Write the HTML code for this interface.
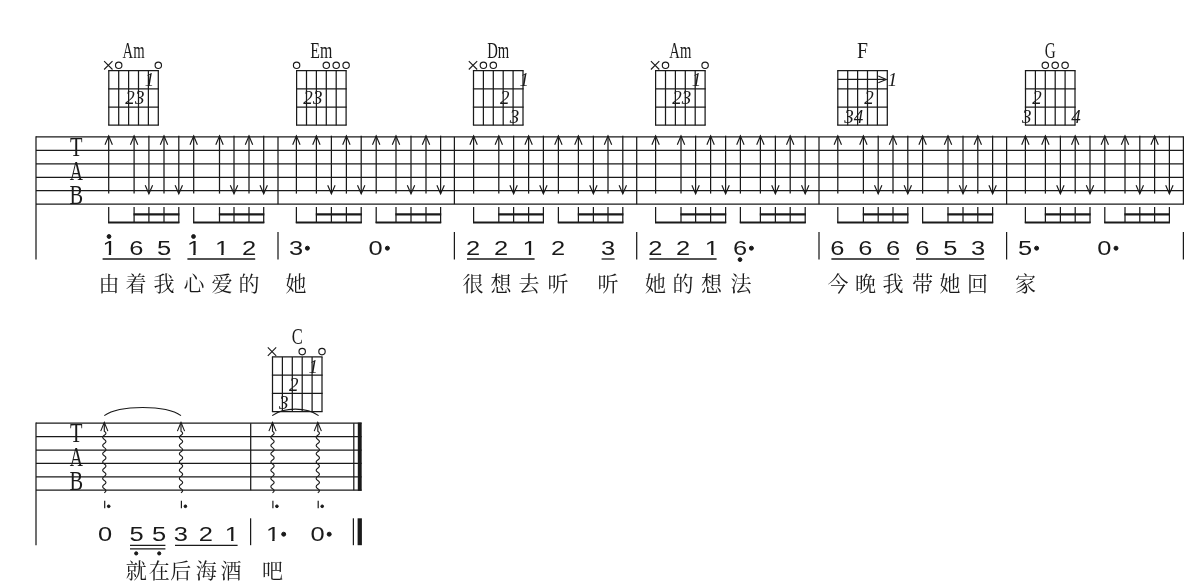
<!DOCTYPE html>
<html lang="zh-CN"><head><meta charset="utf-8"><title>吉他谱</title>
<style>
html,body{margin:0;padding:0;background:#fff;}
body{width:1200px;height:582px;overflow:hidden;}
svg{display:block;will-change:transform;}
svg line,svg path,svg circle{stroke:#1a1a1a;}
text{fill:#1a1a1a;text-anchor:middle;}
.nm{font-family:"Liberation Sans",sans-serif;font-size:19.6px;}
.ly{font-family:"Liberation Serif","Noto Serif CJK SC",serif;font-size:21px;font-weight:400;}
.cn{font-family:"Liberation Serif",serif;font-size:23.2px;}
.tab{font-family:"Liberation Serif",serif;font-size:27.2px;}
.fg{font-family:"Liberation Serif",serif;font-style:italic;font-size:19px;}
</style></head><body>
<svg width="1200" height="582" viewBox="0 0 1200 582">
<defs><clipPath id="c1"><rect x="-6" y="-16" width="12" height="14.35"/><rect x="-0.62" y="-2" width="1.85" height="3"/></clipPath></defs>
<line x1="36.00" y1="136.90" x2="1183.40" y2="136.90" stroke-width="1.25"/>
<line x1="36.00" y1="150.35" x2="1183.40" y2="150.35" stroke-width="1.25"/>
<line x1="36.00" y1="163.80" x2="1183.40" y2="163.80" stroke-width="1.25"/>
<line x1="36.00" y1="177.25" x2="1183.40" y2="177.25" stroke-width="1.25"/>
<line x1="36.00" y1="190.70" x2="1183.40" y2="190.70" stroke-width="1.25"/>
<line x1="36.00" y1="204.15" x2="1183.40" y2="204.15" stroke-width="1.25"/>
<line x1="36.00" y1="136.30" x2="36.00" y2="259.50" stroke-width="1.25"/>
<line x1="278.00" y1="136.90" x2="278.00" y2="204.15" stroke-width="1.25"/>
<line x1="454.40" y1="136.90" x2="454.40" y2="204.15" stroke-width="1.25"/>
<line x1="636.70" y1="136.90" x2="636.70" y2="204.15" stroke-width="1.25"/>
<line x1="819.00" y1="136.90" x2="819.00" y2="204.15" stroke-width="1.25"/>
<line x1="1006.60" y1="136.90" x2="1006.60" y2="204.15" stroke-width="1.25"/>
<line x1="1183.40" y1="136.30" x2="1183.40" y2="204.75" stroke-width="1.25"/>
<line x1="278.00" y1="232.00" x2="278.00" y2="259.50" stroke-width="1.25"/>
<line x1="454.40" y1="232.00" x2="454.40" y2="259.50" stroke-width="1.25"/>
<line x1="636.70" y1="232.00" x2="636.70" y2="259.50" stroke-width="1.25"/>
<line x1="819.00" y1="232.00" x2="819.00" y2="259.50" stroke-width="1.25"/>
<line x1="1006.60" y1="232.00" x2="1006.60" y2="259.50" stroke-width="1.25"/>
<line x1="1183.40" y1="232.00" x2="1183.40" y2="259.50" stroke-width="1.25"/>
<text class="tab" transform="translate(76.30,155.90) scale(0.75,1)" >T</text>
<text class="tab" transform="translate(76.30,179.70) scale(0.67,1)" >A</text>
<text class="tab" transform="translate(76.30,204.10) scale(0.75,1)" >B</text>
<line x1="108.70" y1="135.70" x2="108.70" y2="193.60" stroke-width="1.25"/>
<path d="M105.00,144.80 L108.70,136.00 L112.40,144.80" stroke-width="1.15" fill="none"/>
<line x1="134.10" y1="135.70" x2="134.10" y2="193.60" stroke-width="1.25"/>
<path d="M130.40,144.80 L134.10,136.00 L137.80,144.80" stroke-width="1.15" fill="none"/>
<line x1="148.90" y1="135.70" x2="148.90" y2="193.60" stroke-width="1.25"/>
<path d="M145.20,185.20 L148.90,193.80 L152.60,185.20" stroke-width="1.15" fill="none"/>
<line x1="164.00" y1="135.70" x2="164.00" y2="193.60" stroke-width="1.25"/>
<path d="M160.30,144.80 L164.00,136.00 L167.70,144.80" stroke-width="1.15" fill="none"/>
<line x1="178.80" y1="135.70" x2="178.80" y2="193.60" stroke-width="1.25"/>
<path d="M175.10,185.20 L178.80,193.80 L182.50,185.20" stroke-width="1.15" fill="none"/>
<line x1="193.70" y1="135.70" x2="193.70" y2="193.60" stroke-width="1.25"/>
<path d="M190.00,144.80 L193.70,136.00 L197.40,144.80" stroke-width="1.15" fill="none"/>
<line x1="219.50" y1="135.70" x2="219.50" y2="193.60" stroke-width="1.25"/>
<path d="M215.80,144.80 L219.50,136.00 L223.20,144.80" stroke-width="1.15" fill="none"/>
<line x1="234.00" y1="135.70" x2="234.00" y2="193.60" stroke-width="1.25"/>
<path d="M230.30,185.20 L234.00,193.80 L237.70,185.20" stroke-width="1.15" fill="none"/>
<line x1="249.00" y1="135.70" x2="249.00" y2="193.60" stroke-width="1.25"/>
<path d="M245.30,144.80 L249.00,136.00 L252.70,144.80" stroke-width="1.15" fill="none"/>
<line x1="263.70" y1="135.70" x2="263.70" y2="193.60" stroke-width="1.25"/>
<path d="M260.00,185.20 L263.70,193.80 L267.40,185.20" stroke-width="1.15" fill="none"/>
<line x1="108.70" y1="207.00" x2="108.70" y2="223.00" stroke-width="1.25"/>
<line x1="134.10" y1="207.00" x2="134.10" y2="223.00" stroke-width="1.25"/>
<line x1="148.90" y1="207.00" x2="148.90" y2="223.00" stroke-width="1.25"/>
<line x1="164.00" y1="207.00" x2="164.00" y2="223.00" stroke-width="1.25"/>
<line x1="178.80" y1="207.00" x2="178.80" y2="223.00" stroke-width="1.25"/>
<line x1="108.10" y1="222.60" x2="179.40" y2="222.60" stroke-width="2.0"/>
<line x1="133.50" y1="214.30" x2="179.40" y2="214.30" stroke-width="2.3"/>
<line x1="193.70" y1="207.00" x2="193.70" y2="223.00" stroke-width="1.25"/>
<line x1="219.50" y1="207.00" x2="219.50" y2="223.00" stroke-width="1.25"/>
<line x1="234.00" y1="207.00" x2="234.00" y2="223.00" stroke-width="1.25"/>
<line x1="249.00" y1="207.00" x2="249.00" y2="223.00" stroke-width="1.25"/>
<line x1="263.70" y1="207.00" x2="263.70" y2="223.00" stroke-width="1.25"/>
<line x1="193.10" y1="222.60" x2="264.30" y2="222.60" stroke-width="2.0"/>
<line x1="218.90" y1="214.30" x2="264.30" y2="214.30" stroke-width="2.3"/>
<line x1="296.40" y1="135.70" x2="296.40" y2="193.60" stroke-width="1.25"/>
<path d="M292.70,144.80 L296.40,136.00 L300.10,144.80" stroke-width="1.15" fill="none"/>
<line x1="316.40" y1="135.70" x2="316.40" y2="193.60" stroke-width="1.25"/>
<path d="M312.70,144.80 L316.40,136.00 L320.10,144.80" stroke-width="1.15" fill="none"/>
<line x1="331.40" y1="135.70" x2="331.40" y2="193.60" stroke-width="1.25"/>
<path d="M327.70,185.20 L331.40,193.80 L335.10,185.20" stroke-width="1.15" fill="none"/>
<line x1="346.40" y1="135.70" x2="346.40" y2="193.60" stroke-width="1.25"/>
<path d="M342.70,144.80 L346.40,136.00 L350.10,144.80" stroke-width="1.15" fill="none"/>
<line x1="361.20" y1="135.70" x2="361.20" y2="193.60" stroke-width="1.25"/>
<path d="M357.50,185.20 L361.20,193.80 L364.90,185.20" stroke-width="1.15" fill="none"/>
<line x1="376.20" y1="135.70" x2="376.20" y2="193.60" stroke-width="1.25"/>
<path d="M372.50,144.80 L376.20,136.00 L379.90,144.80" stroke-width="1.15" fill="none"/>
<line x1="396.00" y1="135.70" x2="396.00" y2="193.60" stroke-width="1.25"/>
<path d="M392.30,144.80 L396.00,136.00 L399.70,144.80" stroke-width="1.15" fill="none"/>
<line x1="411.00" y1="135.70" x2="411.00" y2="193.60" stroke-width="1.25"/>
<path d="M407.30,185.20 L411.00,193.80 L414.70,185.20" stroke-width="1.15" fill="none"/>
<line x1="426.00" y1="135.70" x2="426.00" y2="193.60" stroke-width="1.25"/>
<path d="M422.30,144.80 L426.00,136.00 L429.70,144.80" stroke-width="1.15" fill="none"/>
<line x1="440.60" y1="135.70" x2="440.60" y2="193.60" stroke-width="1.25"/>
<path d="M436.90,185.20 L440.60,193.80 L444.30,185.20" stroke-width="1.15" fill="none"/>
<line x1="296.40" y1="207.00" x2="296.40" y2="223.00" stroke-width="1.25"/>
<line x1="316.40" y1="207.00" x2="316.40" y2="223.00" stroke-width="1.25"/>
<line x1="331.40" y1="207.00" x2="331.40" y2="223.00" stroke-width="1.25"/>
<line x1="346.40" y1="207.00" x2="346.40" y2="223.00" stroke-width="1.25"/>
<line x1="361.20" y1="207.00" x2="361.20" y2="223.00" stroke-width="1.25"/>
<line x1="295.80" y1="222.60" x2="361.80" y2="222.60" stroke-width="2.0"/>
<line x1="315.80" y1="214.30" x2="361.80" y2="214.30" stroke-width="2.3"/>
<line x1="376.20" y1="207.00" x2="376.20" y2="223.00" stroke-width="1.25"/>
<line x1="396.00" y1="207.00" x2="396.00" y2="223.00" stroke-width="1.25"/>
<line x1="411.00" y1="207.00" x2="411.00" y2="223.00" stroke-width="1.25"/>
<line x1="426.00" y1="207.00" x2="426.00" y2="223.00" stroke-width="1.25"/>
<line x1="440.60" y1="207.00" x2="440.60" y2="223.00" stroke-width="1.25"/>
<line x1="375.60" y1="222.60" x2="441.20" y2="222.60" stroke-width="2.0"/>
<line x1="395.40" y1="214.30" x2="441.20" y2="214.30" stroke-width="2.3"/>
<line x1="473.60" y1="135.70" x2="473.60" y2="193.60" stroke-width="1.25"/>
<path d="M469.90,144.80 L473.60,136.00 L477.30,144.80" stroke-width="1.15" fill="none"/>
<line x1="498.80" y1="135.70" x2="498.80" y2="193.60" stroke-width="1.25"/>
<path d="M495.10,144.80 L498.80,136.00 L502.50,144.80" stroke-width="1.15" fill="none"/>
<line x1="513.60" y1="135.70" x2="513.60" y2="193.60" stroke-width="1.25"/>
<path d="M509.90,185.20 L513.60,193.80 L517.30,185.20" stroke-width="1.15" fill="none"/>
<line x1="528.60" y1="135.70" x2="528.60" y2="193.60" stroke-width="1.25"/>
<path d="M524.90,144.80 L528.60,136.00 L532.30,144.80" stroke-width="1.15" fill="none"/>
<line x1="543.40" y1="135.70" x2="543.40" y2="193.60" stroke-width="1.25"/>
<path d="M539.70,185.20 L543.40,193.80 L547.10,185.20" stroke-width="1.15" fill="none"/>
<line x1="558.40" y1="135.70" x2="558.40" y2="193.60" stroke-width="1.25"/>
<path d="M554.70,144.80 L558.40,136.00 L562.10,144.80" stroke-width="1.15" fill="none"/>
<line x1="578.40" y1="135.70" x2="578.40" y2="193.60" stroke-width="1.25"/>
<path d="M574.70,144.80 L578.40,136.00 L582.10,144.80" stroke-width="1.15" fill="none"/>
<line x1="593.40" y1="135.70" x2="593.40" y2="193.60" stroke-width="1.25"/>
<path d="M589.70,185.20 L593.40,193.80 L597.10,185.20" stroke-width="1.15" fill="none"/>
<line x1="608.00" y1="135.70" x2="608.00" y2="193.60" stroke-width="1.25"/>
<path d="M604.30,144.80 L608.00,136.00 L611.70,144.80" stroke-width="1.15" fill="none"/>
<line x1="622.80" y1="135.70" x2="622.80" y2="193.60" stroke-width="1.25"/>
<path d="M619.10,185.20 L622.80,193.80 L626.50,185.20" stroke-width="1.15" fill="none"/>
<line x1="473.60" y1="207.00" x2="473.60" y2="223.00" stroke-width="1.25"/>
<line x1="498.80" y1="207.00" x2="498.80" y2="223.00" stroke-width="1.25"/>
<line x1="513.60" y1="207.00" x2="513.60" y2="223.00" stroke-width="1.25"/>
<line x1="528.60" y1="207.00" x2="528.60" y2="223.00" stroke-width="1.25"/>
<line x1="543.40" y1="207.00" x2="543.40" y2="223.00" stroke-width="1.25"/>
<line x1="473.00" y1="222.60" x2="544.00" y2="222.60" stroke-width="2.0"/>
<line x1="498.20" y1="214.30" x2="544.00" y2="214.30" stroke-width="2.3"/>
<line x1="558.40" y1="207.00" x2="558.40" y2="223.00" stroke-width="1.25"/>
<line x1="578.40" y1="207.00" x2="578.40" y2="223.00" stroke-width="1.25"/>
<line x1="593.40" y1="207.00" x2="593.40" y2="223.00" stroke-width="1.25"/>
<line x1="608.00" y1="207.00" x2="608.00" y2="223.00" stroke-width="1.25"/>
<line x1="622.80" y1="207.00" x2="622.80" y2="223.00" stroke-width="1.25"/>
<line x1="557.80" y1="222.60" x2="623.40" y2="222.60" stroke-width="2.0"/>
<line x1="577.80" y1="214.30" x2="623.40" y2="214.30" stroke-width="2.3"/>
<line x1="655.60" y1="135.70" x2="655.60" y2="193.60" stroke-width="1.25"/>
<path d="M651.90,144.80 L655.60,136.00 L659.30,144.80" stroke-width="1.15" fill="none"/>
<line x1="681.00" y1="135.70" x2="681.00" y2="193.60" stroke-width="1.25"/>
<path d="M677.30,144.80 L681.00,136.00 L684.70,144.80" stroke-width="1.15" fill="none"/>
<line x1="695.60" y1="135.70" x2="695.60" y2="193.60" stroke-width="1.25"/>
<path d="M691.90,185.20 L695.60,193.80 L699.30,185.20" stroke-width="1.15" fill="none"/>
<line x1="710.60" y1="135.70" x2="710.60" y2="193.60" stroke-width="1.25"/>
<path d="M706.90,144.80 L710.60,136.00 L714.30,144.80" stroke-width="1.15" fill="none"/>
<line x1="725.60" y1="135.70" x2="725.60" y2="193.60" stroke-width="1.25"/>
<path d="M721.90,185.20 L725.60,193.80 L729.30,185.20" stroke-width="1.15" fill="none"/>
<line x1="740.40" y1="135.70" x2="740.40" y2="193.60" stroke-width="1.25"/>
<path d="M736.70,144.80 L740.40,136.00 L744.10,144.80" stroke-width="1.15" fill="none"/>
<line x1="760.40" y1="135.70" x2="760.40" y2="193.60" stroke-width="1.25"/>
<path d="M756.70,144.80 L760.40,136.00 L764.10,144.80" stroke-width="1.15" fill="none"/>
<line x1="775.40" y1="135.70" x2="775.40" y2="193.60" stroke-width="1.25"/>
<path d="M771.70,185.20 L775.40,193.80 L779.10,185.20" stroke-width="1.15" fill="none"/>
<line x1="790.20" y1="135.70" x2="790.20" y2="193.60" stroke-width="1.25"/>
<path d="M786.50,144.80 L790.20,136.00 L793.90,144.80" stroke-width="1.15" fill="none"/>
<line x1="805.20" y1="135.70" x2="805.20" y2="193.60" stroke-width="1.25"/>
<path d="M801.50,185.20 L805.20,193.80 L808.90,185.20" stroke-width="1.15" fill="none"/>
<line x1="655.60" y1="207.00" x2="655.60" y2="223.00" stroke-width="1.25"/>
<line x1="681.00" y1="207.00" x2="681.00" y2="223.00" stroke-width="1.25"/>
<line x1="695.60" y1="207.00" x2="695.60" y2="223.00" stroke-width="1.25"/>
<line x1="710.60" y1="207.00" x2="710.60" y2="223.00" stroke-width="1.25"/>
<line x1="725.60" y1="207.00" x2="725.60" y2="223.00" stroke-width="1.25"/>
<line x1="655.00" y1="222.60" x2="726.20" y2="222.60" stroke-width="2.0"/>
<line x1="680.40" y1="214.30" x2="726.20" y2="214.30" stroke-width="2.3"/>
<line x1="740.40" y1="207.00" x2="740.40" y2="223.00" stroke-width="1.25"/>
<line x1="760.40" y1="207.00" x2="760.40" y2="223.00" stroke-width="1.25"/>
<line x1="775.40" y1="207.00" x2="775.40" y2="223.00" stroke-width="1.25"/>
<line x1="790.20" y1="207.00" x2="790.20" y2="223.00" stroke-width="1.25"/>
<line x1="805.20" y1="207.00" x2="805.20" y2="223.00" stroke-width="1.25"/>
<line x1="739.80" y1="222.60" x2="805.80" y2="222.60" stroke-width="2.0"/>
<line x1="759.80" y1="214.30" x2="805.80" y2="214.30" stroke-width="2.3"/>
<line x1="837.80" y1="135.70" x2="837.80" y2="193.60" stroke-width="1.25"/>
<path d="M834.10,144.80 L837.80,136.00 L841.50,144.80" stroke-width="1.15" fill="none"/>
<line x1="863.40" y1="135.70" x2="863.40" y2="193.60" stroke-width="1.25"/>
<path d="M859.70,144.80 L863.40,136.00 L867.10,144.80" stroke-width="1.15" fill="none"/>
<line x1="878.20" y1="135.70" x2="878.20" y2="193.60" stroke-width="1.25"/>
<path d="M874.50,185.20 L878.20,193.80 L881.90,185.20" stroke-width="1.15" fill="none"/>
<line x1="893.00" y1="135.70" x2="893.00" y2="193.60" stroke-width="1.25"/>
<path d="M889.30,144.80 L893.00,136.00 L896.70,144.80" stroke-width="1.15" fill="none"/>
<line x1="907.80" y1="135.70" x2="907.80" y2="193.60" stroke-width="1.25"/>
<path d="M904.10,185.20 L907.80,193.80 L911.50,185.20" stroke-width="1.15" fill="none"/>
<line x1="922.60" y1="135.70" x2="922.60" y2="193.60" stroke-width="1.25"/>
<path d="M918.90,144.80 L922.60,136.00 L926.30,144.80" stroke-width="1.15" fill="none"/>
<line x1="948.00" y1="135.70" x2="948.00" y2="193.60" stroke-width="1.25"/>
<path d="M944.30,144.80 L948.00,136.00 L951.70,144.80" stroke-width="1.15" fill="none"/>
<line x1="963.00" y1="135.70" x2="963.00" y2="193.60" stroke-width="1.25"/>
<path d="M959.30,185.20 L963.00,193.80 L966.70,185.20" stroke-width="1.15" fill="none"/>
<line x1="977.80" y1="135.70" x2="977.80" y2="193.60" stroke-width="1.25"/>
<path d="M974.10,144.80 L977.80,136.00 L981.50,144.80" stroke-width="1.15" fill="none"/>
<line x1="992.60" y1="135.70" x2="992.60" y2="193.60" stroke-width="1.25"/>
<path d="M988.90,185.20 L992.60,193.80 L996.30,185.20" stroke-width="1.15" fill="none"/>
<line x1="837.80" y1="207.00" x2="837.80" y2="223.00" stroke-width="1.25"/>
<line x1="863.40" y1="207.00" x2="863.40" y2="223.00" stroke-width="1.25"/>
<line x1="878.20" y1="207.00" x2="878.20" y2="223.00" stroke-width="1.25"/>
<line x1="893.00" y1="207.00" x2="893.00" y2="223.00" stroke-width="1.25"/>
<line x1="907.80" y1="207.00" x2="907.80" y2="223.00" stroke-width="1.25"/>
<line x1="837.20" y1="222.60" x2="908.40" y2="222.60" stroke-width="2.0"/>
<line x1="862.80" y1="214.30" x2="908.40" y2="214.30" stroke-width="2.3"/>
<line x1="922.60" y1="207.00" x2="922.60" y2="223.00" stroke-width="1.25"/>
<line x1="948.00" y1="207.00" x2="948.00" y2="223.00" stroke-width="1.25"/>
<line x1="963.00" y1="207.00" x2="963.00" y2="223.00" stroke-width="1.25"/>
<line x1="977.80" y1="207.00" x2="977.80" y2="223.00" stroke-width="1.25"/>
<line x1="992.60" y1="207.00" x2="992.60" y2="223.00" stroke-width="1.25"/>
<line x1="922.00" y1="222.60" x2="993.20" y2="222.60" stroke-width="2.0"/>
<line x1="947.40" y1="214.30" x2="993.20" y2="214.30" stroke-width="2.3"/>
<line x1="1025.40" y1="135.70" x2="1025.40" y2="193.60" stroke-width="1.25"/>
<path d="M1021.70,144.80 L1025.40,136.00 L1029.10,144.80" stroke-width="1.15" fill="none"/>
<line x1="1045.40" y1="135.70" x2="1045.40" y2="193.60" stroke-width="1.25"/>
<path d="M1041.70,144.80 L1045.40,136.00 L1049.10,144.80" stroke-width="1.15" fill="none"/>
<line x1="1060.40" y1="135.70" x2="1060.40" y2="193.60" stroke-width="1.25"/>
<path d="M1056.70,185.20 L1060.40,193.80 L1064.10,185.20" stroke-width="1.15" fill="none"/>
<line x1="1075.20" y1="135.70" x2="1075.20" y2="193.60" stroke-width="1.25"/>
<path d="M1071.50,144.80 L1075.20,136.00 L1078.90,144.80" stroke-width="1.15" fill="none"/>
<line x1="1090.00" y1="135.70" x2="1090.00" y2="193.60" stroke-width="1.25"/>
<path d="M1086.30,185.20 L1090.00,193.80 L1093.70,185.20" stroke-width="1.15" fill="none"/>
<line x1="1104.80" y1="135.70" x2="1104.80" y2="193.60" stroke-width="1.25"/>
<path d="M1101.10,144.80 L1104.80,136.00 L1108.50,144.80" stroke-width="1.15" fill="none"/>
<line x1="1125.00" y1="135.70" x2="1125.00" y2="193.60" stroke-width="1.25"/>
<path d="M1121.30,144.80 L1125.00,136.00 L1128.70,144.80" stroke-width="1.15" fill="none"/>
<line x1="1139.80" y1="135.70" x2="1139.80" y2="193.60" stroke-width="1.25"/>
<path d="M1136.10,185.20 L1139.80,193.80 L1143.50,185.20" stroke-width="1.15" fill="none"/>
<line x1="1154.60" y1="135.70" x2="1154.60" y2="193.60" stroke-width="1.25"/>
<path d="M1150.90,144.80 L1154.60,136.00 L1158.30,144.80" stroke-width="1.15" fill="none"/>
<line x1="1169.40" y1="135.70" x2="1169.40" y2="193.60" stroke-width="1.25"/>
<path d="M1165.70,185.20 L1169.40,193.80 L1173.10,185.20" stroke-width="1.15" fill="none"/>
<line x1="1025.40" y1="207.00" x2="1025.40" y2="223.00" stroke-width="1.25"/>
<line x1="1045.40" y1="207.00" x2="1045.40" y2="223.00" stroke-width="1.25"/>
<line x1="1060.40" y1="207.00" x2="1060.40" y2="223.00" stroke-width="1.25"/>
<line x1="1075.20" y1="207.00" x2="1075.20" y2="223.00" stroke-width="1.25"/>
<line x1="1090.00" y1="207.00" x2="1090.00" y2="223.00" stroke-width="1.25"/>
<line x1="1024.80" y1="222.60" x2="1090.60" y2="222.60" stroke-width="2.0"/>
<line x1="1044.80" y1="214.30" x2="1090.60" y2="214.30" stroke-width="2.3"/>
<line x1="1104.80" y1="207.00" x2="1104.80" y2="223.00" stroke-width="1.25"/>
<line x1="1125.00" y1="207.00" x2="1125.00" y2="223.00" stroke-width="1.25"/>
<line x1="1139.80" y1="207.00" x2="1139.80" y2="223.00" stroke-width="1.25"/>
<line x1="1154.60" y1="207.00" x2="1154.60" y2="223.00" stroke-width="1.25"/>
<line x1="1169.40" y1="207.00" x2="1169.40" y2="223.00" stroke-width="1.25"/>
<line x1="1104.20" y1="222.60" x2="1170.00" y2="222.60" stroke-width="2.0"/>
<line x1="1124.40" y1="214.30" x2="1170.00" y2="214.30" stroke-width="2.3"/>
<line x1="108.80" y1="70.60" x2="108.80" y2="125.20" stroke-width="1.25"/>
<line x1="118.70" y1="70.60" x2="118.70" y2="125.20" stroke-width="1.25"/>
<line x1="128.60" y1="70.60" x2="128.60" y2="125.20" stroke-width="1.25"/>
<line x1="138.50" y1="70.60" x2="138.50" y2="125.20" stroke-width="1.25"/>
<line x1="148.40" y1="70.60" x2="148.40" y2="125.20" stroke-width="1.25"/>
<line x1="158.30" y1="70.60" x2="158.30" y2="125.20" stroke-width="1.25"/>
<line x1="108.20" y1="70.60" x2="158.90" y2="70.60" stroke-width="1.25"/>
<line x1="108.20" y1="88.80" x2="158.90" y2="88.80" stroke-width="1.25"/>
<line x1="108.20" y1="107.00" x2="158.90" y2="107.00" stroke-width="1.25"/>
<line x1="108.20" y1="125.20" x2="158.90" y2="125.20" stroke-width="1.25"/>
<text class="cn" x="133.55" y="57.60" textLength="22" lengthAdjust="spacingAndGlyphs">Am</text>
<path d="M104.10,61.10 L112.50,69.50 M112.50,61.10 L104.10,69.50" stroke-width="1.1" fill="none"/>
<circle cx="118.70" cy="65.30" r="3.2" fill="none" stroke-width="1.15"/>
<circle cx="158.30" cy="65.30" r="3.2" fill="none" stroke-width="1.15"/>
<text class="fg" transform="translate(149.60,86.20) scale(1.0,1)" >1</text>
<text class="fg" transform="translate(130.10,104.40) scale(1.0,1)" >2</text>
<text class="fg" transform="translate(139.80,104.40) scale(1.0,1)" >3</text>
<line x1="296.60" y1="70.60" x2="296.60" y2="125.20" stroke-width="1.25"/>
<line x1="306.50" y1="70.60" x2="306.50" y2="125.20" stroke-width="1.25"/>
<line x1="316.40" y1="70.60" x2="316.40" y2="125.20" stroke-width="1.25"/>
<line x1="326.30" y1="70.60" x2="326.30" y2="125.20" stroke-width="1.25"/>
<line x1="336.20" y1="70.60" x2="336.20" y2="125.20" stroke-width="1.25"/>
<line x1="346.10" y1="70.60" x2="346.10" y2="125.20" stroke-width="1.25"/>
<line x1="296.00" y1="70.60" x2="346.70" y2="70.60" stroke-width="1.25"/>
<line x1="296.00" y1="88.80" x2="346.70" y2="88.80" stroke-width="1.25"/>
<line x1="296.00" y1="107.00" x2="346.70" y2="107.00" stroke-width="1.25"/>
<line x1="296.00" y1="125.20" x2="346.70" y2="125.20" stroke-width="1.25"/>
<text class="cn" x="321.35" y="57.60" textLength="22" lengthAdjust="spacingAndGlyphs">Em</text>
<circle cx="296.60" cy="65.30" r="3.2" fill="none" stroke-width="1.15"/>
<circle cx="326.30" cy="65.30" r="3.2" fill="none" stroke-width="1.15"/>
<circle cx="336.20" cy="65.30" r="3.2" fill="none" stroke-width="1.15"/>
<circle cx="346.10" cy="65.30" r="3.2" fill="none" stroke-width="1.15"/>
<text class="fg" transform="translate(308.00,104.40) scale(1.0,1)" >2</text>
<text class="fg" transform="translate(317.70,104.40) scale(1.0,1)" >3</text>
<line x1="473.50" y1="70.60" x2="473.50" y2="125.20" stroke-width="1.25"/>
<line x1="483.40" y1="70.60" x2="483.40" y2="125.20" stroke-width="1.25"/>
<line x1="493.30" y1="70.60" x2="493.30" y2="125.20" stroke-width="1.25"/>
<line x1="503.20" y1="70.60" x2="503.20" y2="125.20" stroke-width="1.25"/>
<line x1="513.10" y1="70.60" x2="513.10" y2="125.20" stroke-width="1.25"/>
<line x1="523.00" y1="70.60" x2="523.00" y2="125.20" stroke-width="1.25"/>
<line x1="472.90" y1="70.60" x2="523.60" y2="70.60" stroke-width="1.25"/>
<line x1="472.90" y1="88.80" x2="523.60" y2="88.80" stroke-width="1.25"/>
<line x1="472.90" y1="107.00" x2="523.60" y2="107.00" stroke-width="1.25"/>
<line x1="472.90" y1="125.20" x2="523.60" y2="125.20" stroke-width="1.25"/>
<text class="cn" x="498.25" y="57.60" textLength="22" lengthAdjust="spacingAndGlyphs">Dm</text>
<path d="M468.80,61.10 L477.20,69.50 M477.20,61.10 L468.80,69.50" stroke-width="1.1" fill="none"/>
<circle cx="483.40" cy="65.30" r="3.2" fill="none" stroke-width="1.15"/>
<circle cx="493.30" cy="65.30" r="3.2" fill="none" stroke-width="1.15"/>
<text class="fg" transform="translate(524.20,86.20) scale(1.0,1)" >1</text>
<text class="fg" transform="translate(504.70,104.40) scale(1.0,1)" >2</text>
<text class="fg" transform="translate(514.40,122.60) scale(1.0,1)" >3</text>
<line x1="655.60" y1="70.60" x2="655.60" y2="125.20" stroke-width="1.25"/>
<line x1="665.50" y1="70.60" x2="665.50" y2="125.20" stroke-width="1.25"/>
<line x1="675.40" y1="70.60" x2="675.40" y2="125.20" stroke-width="1.25"/>
<line x1="685.30" y1="70.60" x2="685.30" y2="125.20" stroke-width="1.25"/>
<line x1="695.20" y1="70.60" x2="695.20" y2="125.20" stroke-width="1.25"/>
<line x1="705.10" y1="70.60" x2="705.10" y2="125.20" stroke-width="1.25"/>
<line x1="655.00" y1="70.60" x2="705.70" y2="70.60" stroke-width="1.25"/>
<line x1="655.00" y1="88.80" x2="705.70" y2="88.80" stroke-width="1.25"/>
<line x1="655.00" y1="107.00" x2="705.70" y2="107.00" stroke-width="1.25"/>
<line x1="655.00" y1="125.20" x2="705.70" y2="125.20" stroke-width="1.25"/>
<text class="cn" x="680.35" y="57.60" textLength="22" lengthAdjust="spacingAndGlyphs">Am</text>
<path d="M650.90,61.10 L659.30,69.50 M659.30,61.10 L650.90,69.50" stroke-width="1.1" fill="none"/>
<circle cx="665.50" cy="65.30" r="3.2" fill="none" stroke-width="1.15"/>
<circle cx="705.10" cy="65.30" r="3.2" fill="none" stroke-width="1.15"/>
<text class="fg" transform="translate(696.40,86.20) scale(1.0,1)" >1</text>
<text class="fg" transform="translate(676.90,104.40) scale(1.0,1)" >2</text>
<text class="fg" transform="translate(686.60,104.40) scale(1.0,1)" >3</text>
<line x1="837.80" y1="70.60" x2="837.80" y2="125.20" stroke-width="1.25"/>
<line x1="847.70" y1="70.60" x2="847.70" y2="125.20" stroke-width="1.25"/>
<line x1="857.60" y1="70.60" x2="857.60" y2="125.20" stroke-width="1.25"/>
<line x1="867.50" y1="70.60" x2="867.50" y2="125.20" stroke-width="1.25"/>
<line x1="877.40" y1="70.60" x2="877.40" y2="125.20" stroke-width="1.25"/>
<line x1="887.30" y1="70.60" x2="887.30" y2="125.20" stroke-width="1.25"/>
<line x1="837.20" y1="70.60" x2="887.90" y2="70.60" stroke-width="1.25"/>
<line x1="837.20" y1="88.80" x2="887.90" y2="88.80" stroke-width="1.25"/>
<line x1="837.20" y1="107.00" x2="887.90" y2="107.00" stroke-width="1.25"/>
<line x1="837.20" y1="125.20" x2="887.90" y2="125.20" stroke-width="1.25"/>
<text class="cn" x="862.55" y="57.60" textLength="11" lengthAdjust="spacingAndGlyphs">F</text>
<text class="fg" transform="translate(892.60,86.20) scale(1.0,1)" >1</text>
<text class="fg" transform="translate(869.00,104.40) scale(1.0,1)" >2</text>
<text class="fg" transform="translate(849.00,122.60) scale(1.0,1)" >3</text>
<text class="fg" transform="translate(858.60,122.60) scale(1.0,1)" >4</text>
<line x1="837.80" y1="79.40" x2="884.70" y2="79.40" stroke-width="1.25"/>
<path d="M878.30,76.00 L886.30,79.40 L878.30,82.80" stroke-width="1.1" fill="none"/>
<line x1="1025.50" y1="70.60" x2="1025.50" y2="125.20" stroke-width="1.25"/>
<line x1="1035.40" y1="70.60" x2="1035.40" y2="125.20" stroke-width="1.25"/>
<line x1="1045.30" y1="70.60" x2="1045.30" y2="125.20" stroke-width="1.25"/>
<line x1="1055.20" y1="70.60" x2="1055.20" y2="125.20" stroke-width="1.25"/>
<line x1="1065.10" y1="70.60" x2="1065.10" y2="125.20" stroke-width="1.25"/>
<line x1="1075.00" y1="70.60" x2="1075.00" y2="125.20" stroke-width="1.25"/>
<line x1="1024.90" y1="70.60" x2="1075.60" y2="70.60" stroke-width="1.25"/>
<line x1="1024.90" y1="88.80" x2="1075.60" y2="88.80" stroke-width="1.25"/>
<line x1="1024.90" y1="107.00" x2="1075.60" y2="107.00" stroke-width="1.25"/>
<line x1="1024.90" y1="125.20" x2="1075.60" y2="125.20" stroke-width="1.25"/>
<text class="cn" x="1050.25" y="57.60" textLength="11" lengthAdjust="spacingAndGlyphs">G</text>
<circle cx="1045.30" cy="65.30" r="3.2" fill="none" stroke-width="1.15"/>
<circle cx="1055.20" cy="65.30" r="3.2" fill="none" stroke-width="1.15"/>
<circle cx="1065.10" cy="65.30" r="3.2" fill="none" stroke-width="1.15"/>
<text class="fg" transform="translate(1036.90,104.40) scale(1.0,1)" >2</text>
<text class="fg" transform="translate(1026.80,122.60) scale(1.0,1)" >3</text>
<text class="fg" transform="translate(1076.00,122.60) scale(1.0,1)" >4</text>
<text class="nm" transform="translate(109.50,254.60) scale(1.3,1)" clip-path="url(#c1)">1</text>
<text class="nm" transform="translate(136.30,254.60) scale(1.3,1)" >6</text>
<text class="nm" transform="translate(164.00,254.60) scale(1.3,1)" >5</text>
<text class="nm" transform="translate(194.00,254.60) scale(1.3,1)" clip-path="url(#c1)">1</text>
<text class="nm" transform="translate(222.00,254.60) scale(1.3,1)" clip-path="url(#c1)">1</text>
<text class="nm" transform="translate(249.00,254.60) scale(1.3,1)" >2</text>
<text class="nm" transform="translate(296.00,254.60) scale(1.3,1)" >3</text>
<text class="nm" transform="translate(375.60,254.60) scale(1.3,1)" >0</text>
<text class="nm" transform="translate(473.00,254.60) scale(1.3,1)" >2</text>
<text class="nm" transform="translate(501.00,254.60) scale(1.3,1)" >2</text>
<text class="nm" transform="translate(529.50,254.60) scale(1.3,1)" clip-path="url(#c1)">1</text>
<text class="nm" transform="translate(558.00,254.60) scale(1.3,1)" >2</text>
<text class="nm" transform="translate(608.00,254.60) scale(1.3,1)" >3</text>
<text class="nm" transform="translate(655.40,254.60) scale(1.3,1)" >2</text>
<text class="nm" transform="translate(683.00,254.60) scale(1.3,1)" >2</text>
<text class="nm" transform="translate(711.90,254.60) scale(1.3,1)" clip-path="url(#c1)">1</text>
<text class="nm" transform="translate(740.00,254.60) scale(1.3,1)" >6</text>
<text class="nm" transform="translate(837.40,254.60) scale(1.3,1)" >6</text>
<text class="nm" transform="translate(865.40,254.60) scale(1.3,1)" >6</text>
<text class="nm" transform="translate(893.00,254.60) scale(1.3,1)" >6</text>
<text class="nm" transform="translate(922.40,254.60) scale(1.3,1)" >6</text>
<text class="nm" transform="translate(950.40,254.60) scale(1.3,1)" >5</text>
<text class="nm" transform="translate(978.00,254.60) scale(1.3,1)" >3</text>
<text class="nm" transform="translate(1025.00,254.60) scale(1.3,1)" >5</text>
<text class="nm" transform="translate(1104.40,254.60) scale(1.3,1)" >0</text>
<circle cx="109.00" cy="236.50" r="1.9" fill="#1a1a1a" stroke="none"/>
<circle cx="193.50" cy="236.50" r="1.9" fill="#1a1a1a" stroke="none"/>
<circle cx="307.40" cy="248.20" r="2.0" fill="#1a1a1a" stroke="none"/>
<circle cx="387.40" cy="248.20" r="2.0" fill="#1a1a1a" stroke="none"/>
<circle cx="751.40" cy="248.20" r="2.0" fill="#1a1a1a" stroke="none"/>
<circle cx="1036.60" cy="248.20" r="2.0" fill="#1a1a1a" stroke="none"/>
<circle cx="1116.00" cy="248.20" r="2.0" fill="#1a1a1a" stroke="none"/>
<circle cx="740.00" cy="259.60" r="1.9" fill="#1a1a1a" stroke="none"/>
<line x1="102.60" y1="259.00" x2="170.50" y2="259.00" stroke-width="1.3"/>
<line x1="187.40" y1="259.00" x2="255.20" y2="259.00" stroke-width="1.3"/>
<line x1="467.00" y1="259.00" x2="534.60" y2="259.00" stroke-width="1.3"/>
<line x1="601.60" y1="259.00" x2="614.60" y2="259.00" stroke-width="1.3"/>
<line x1="649.40" y1="259.00" x2="716.60" y2="259.00" stroke-width="1.3"/>
<line x1="831.40" y1="259.00" x2="899.20" y2="259.00" stroke-width="1.3"/>
<line x1="916.00" y1="259.00" x2="984.20" y2="259.00" stroke-width="1.3"/>
<text class="ly" transform="translate(109.00,291.20) scale(1.0,1)" >由</text>
<text class="ly" transform="translate(136.00,291.20) scale(1.0,1)" >着</text>
<text class="ly" transform="translate(164.00,291.20) scale(1.0,1)" >我</text>
<text class="ly" transform="translate(194.00,291.20) scale(1.0,1)" >心</text>
<text class="ly" transform="translate(222.00,291.20) scale(1.0,1)" >爱</text>
<text class="ly" transform="translate(249.00,291.20) scale(1.0,1)" >的</text>
<text class="ly" transform="translate(296.00,291.20) scale(1.0,1)" >她</text>
<text class="ly" transform="translate(473.00,291.20) scale(1.0,1)" >很</text>
<text class="ly" transform="translate(501.00,291.20) scale(1.0,1)" >想</text>
<text class="ly" transform="translate(529.00,291.20) scale(1.0,1)" >去</text>
<text class="ly" transform="translate(558.00,291.20) scale(1.0,1)" >听</text>
<text class="ly" transform="translate(608.00,291.20) scale(1.0,1)" >听</text>
<text class="ly" transform="translate(655.40,291.20) scale(1.0,1)" >她</text>
<text class="ly" transform="translate(683.00,291.20) scale(1.0,1)" >的</text>
<text class="ly" transform="translate(711.40,291.20) scale(1.0,1)" >想</text>
<text class="ly" transform="translate(741.00,291.20) scale(1.0,1)" >法</text>
<text class="ly" transform="translate(838.00,291.20) scale(1.0,1)" >今</text>
<text class="ly" transform="translate(865.40,291.20) scale(1.0,1)" >晚</text>
<text class="ly" transform="translate(893.00,291.20) scale(1.0,1)" >我</text>
<text class="ly" transform="translate(922.40,291.20) scale(1.0,1)" >带</text>
<text class="ly" transform="translate(950.00,291.20) scale(1.0,1)" >她</text>
<text class="ly" transform="translate(977.60,291.20) scale(1.0,1)" >回</text>
<text class="ly" transform="translate(1025.40,291.20) scale(1.0,1)" >家</text>
<line x1="36.00" y1="423.20" x2="361.60" y2="423.20" stroke-width="1.25"/>
<line x1="36.00" y1="436.60" x2="361.60" y2="436.60" stroke-width="1.25"/>
<line x1="36.00" y1="450.00" x2="361.60" y2="450.00" stroke-width="1.25"/>
<line x1="36.00" y1="463.40" x2="361.60" y2="463.40" stroke-width="1.25"/>
<line x1="36.00" y1="476.80" x2="361.60" y2="476.80" stroke-width="1.25"/>
<line x1="36.00" y1="490.20" x2="361.60" y2="490.20" stroke-width="1.25"/>
<line x1="36.00" y1="422.60" x2="36.00" y2="545.20" stroke-width="1.25"/>
<line x1="250.70" y1="423.20" x2="250.70" y2="490.20" stroke-width="1.25"/>
<line x1="353.80" y1="423.20" x2="353.80" y2="490.20" stroke-width="1.25"/>
<rect x="357.8" y="422.60" width="3.9" height="68.20" fill="#1a1a1a" stroke="none"/>
<text class="tab" transform="translate(76.30,442.20) scale(0.75,1)" >T</text>
<text class="tab" transform="translate(76.30,466.00) scale(0.67,1)" >A</text>
<text class="tab" transform="translate(76.30,490.40) scale(0.75,1)" >B</text>
<path d="M104.30,422.80 L104.30,431.20 Q107.60,433.25 104.30,435.31 Q101.00,437.36 104.30,439.41 Q107.60,441.47 104.30,443.52 Q101.00,445.57 104.30,447.63 Q107.60,449.68 104.30,451.73 Q101.00,453.79 104.30,455.84 Q107.60,457.89 104.30,459.95 Q101.00,462.00 104.30,464.05 Q107.60,466.11 104.30,468.16 Q101.00,470.21 104.30,472.27 Q107.60,474.32 104.30,476.37 Q101.00,478.43 104.30,480.48 Q107.60,482.53 104.30,484.59 Q101.00,486.64 104.30,488.69 Q107.60,490.75 104.30,492.80" stroke-width="1.15" fill="none"/>
<path d="M100.70,431.10 L104.30,422.50 L107.90,431.10" stroke-width="1.1" fill="none"/>
<line x1="104.70" y1="500.80" x2="104.70" y2="508.20" stroke-width="1.2"/>
<circle cx="108.70" cy="506.30" r="1.35" fill="#1a1a1a" stroke="none"/>
<path d="M181.00,422.80 L181.00,431.20 Q184.30,433.25 181.00,435.31 Q177.70,437.36 181.00,439.41 Q184.30,441.47 181.00,443.52 Q177.70,445.57 181.00,447.63 Q184.30,449.68 181.00,451.73 Q177.70,453.79 181.00,455.84 Q184.30,457.89 181.00,459.95 Q177.70,462.00 181.00,464.05 Q184.30,466.11 181.00,468.16 Q177.70,470.21 181.00,472.27 Q184.30,474.32 181.00,476.37 Q177.70,478.43 181.00,480.48 Q184.30,482.53 181.00,484.59 Q177.70,486.64 181.00,488.69 Q184.30,490.75 181.00,492.80" stroke-width="1.15" fill="none"/>
<path d="M177.40,431.10 L181.00,422.50 L184.60,431.10" stroke-width="1.1" fill="none"/>
<line x1="181.40" y1="500.80" x2="181.40" y2="508.20" stroke-width="1.2"/>
<circle cx="185.40" cy="506.30" r="1.35" fill="#1a1a1a" stroke="none"/>
<path d="M272.50,422.80 L272.50,431.20 Q275.80,433.25 272.50,435.31 Q269.20,437.36 272.50,439.41 Q275.80,441.47 272.50,443.52 Q269.20,445.57 272.50,447.63 Q275.80,449.68 272.50,451.73 Q269.20,453.79 272.50,455.84 Q275.80,457.89 272.50,459.95 Q269.20,462.00 272.50,464.05 Q275.80,466.11 272.50,468.16 Q269.20,470.21 272.50,472.27 Q275.80,474.32 272.50,476.37 Q269.20,478.43 272.50,480.48 Q275.80,482.53 272.50,484.59 Q269.20,486.64 272.50,488.69 Q275.80,490.75 272.50,492.80" stroke-width="1.15" fill="none"/>
<path d="M268.90,431.10 L272.50,422.50 L276.10,431.10" stroke-width="1.1" fill="none"/>
<line x1="272.90" y1="500.80" x2="272.90" y2="508.20" stroke-width="1.2"/>
<circle cx="276.90" cy="506.30" r="1.35" fill="#1a1a1a" stroke="none"/>
<path d="M317.80,422.80 L317.80,431.20 Q321.10,433.25 317.80,435.31 Q314.50,437.36 317.80,439.41 Q321.10,441.47 317.80,443.52 Q314.50,445.57 317.80,447.63 Q321.10,449.68 317.80,451.73 Q314.50,453.79 317.80,455.84 Q321.10,457.89 317.80,459.95 Q314.50,462.00 317.80,464.05 Q321.10,466.11 317.80,468.16 Q314.50,470.21 317.80,472.27 Q321.10,474.32 317.80,476.37 Q314.50,478.43 317.80,480.48 Q321.10,482.53 317.80,484.59 Q314.50,486.64 317.80,488.69 Q321.10,490.75 317.80,492.80" stroke-width="1.15" fill="none"/>
<path d="M314.20,431.10 L317.80,422.50 L321.40,431.10" stroke-width="1.1" fill="none"/>
<line x1="318.20" y1="500.80" x2="318.20" y2="508.20" stroke-width="1.2"/>
<circle cx="322.20" cy="506.30" r="1.35" fill="#1a1a1a" stroke="none"/>
<path d="M104.3,415.6 C119.6,404.8 165.7,404.8 181.0,415.6" stroke-width="1.1" fill="none"/>
<path d="M272.2,415.6 C283.8,406.9 307.0,406.9 318.6,415.6" stroke-width="1.1" fill="none"/>
<line x1="272.50" y1="356.90" x2="272.50" y2="411.50" stroke-width="1.25"/>
<line x1="282.40" y1="356.90" x2="282.40" y2="411.50" stroke-width="1.25"/>
<line x1="292.30" y1="356.90" x2="292.30" y2="411.50" stroke-width="1.25"/>
<line x1="302.20" y1="356.90" x2="302.20" y2="411.50" stroke-width="1.25"/>
<line x1="312.10" y1="356.90" x2="312.10" y2="411.50" stroke-width="1.25"/>
<line x1="322.00" y1="356.90" x2="322.00" y2="411.50" stroke-width="1.25"/>
<line x1="271.90" y1="356.90" x2="322.60" y2="356.90" stroke-width="1.25"/>
<line x1="271.90" y1="375.10" x2="322.60" y2="375.10" stroke-width="1.25"/>
<line x1="271.90" y1="393.30" x2="322.60" y2="393.30" stroke-width="1.25"/>
<line x1="271.90" y1="411.50" x2="322.60" y2="411.50" stroke-width="1.25"/>
<text class="cn" x="297.25" y="343.90" textLength="11" lengthAdjust="spacingAndGlyphs">C</text>
<path d="M267.80,347.40 L276.20,355.80 M276.20,347.40 L267.80,355.80" stroke-width="1.1" fill="none"/>
<circle cx="302.20" cy="351.60" r="3.2" fill="none" stroke-width="1.15"/>
<circle cx="322.00" cy="351.60" r="3.2" fill="none" stroke-width="1.15"/>
<text class="fg" transform="translate(313.30,372.50) scale(1.0,1)" >1</text>
<text class="fg" transform="translate(293.80,390.70) scale(1.0,1)" >2</text>
<text class="fg" transform="translate(283.70,408.90) scale(1.0,1)" >3</text>
<text class="nm" transform="translate(105.00,540.60) scale(1.3,1)" >0</text>
<text class="nm" transform="translate(136.70,540.60) scale(1.3,1)" >5</text>
<text class="nm" transform="translate(159.20,540.60) scale(1.3,1)" >5</text>
<text class="nm" transform="translate(180.80,540.60) scale(1.3,1)" >3</text>
<text class="nm" transform="translate(205.80,540.60) scale(1.3,1)" >2</text>
<text class="nm" transform="translate(231.90,540.60) scale(1.3,1)" clip-path="url(#c1)">1</text>
<text class="nm" transform="translate(273.00,540.60) scale(1.3,1)" clip-path="url(#c1)">1</text>
<text class="nm" transform="translate(317.50,540.60) scale(1.3,1)" >0</text>
<line x1="130.00" y1="545.40" x2="165.40" y2="545.40" stroke-width="1.3"/>
<line x1="130.00" y1="548.80" x2="165.40" y2="548.80" stroke-width="1.3"/>
<line x1="175.00" y1="545.40" x2="237.60" y2="545.40" stroke-width="1.3"/>
<circle cx="136.20" cy="553.40" r="1.6" fill="#1a1a1a" stroke="none"/>
<circle cx="159.20" cy="553.40" r="1.6" fill="#1a1a1a" stroke="none"/>
<circle cx="283.70" cy="534.20" r="2.0" fill="#1a1a1a" stroke="none"/>
<circle cx="329.20" cy="534.20" r="2.0" fill="#1a1a1a" stroke="none"/>
<line x1="250.60" y1="518.30" x2="250.60" y2="545.20" stroke-width="1.25"/>
<line x1="353.40" y1="518.30" x2="353.40" y2="545.20" stroke-width="1.25"/>
<rect x="357.6" y="518.3" width="4.3" height="26.9" fill="#1a1a1a" stroke="none"/>
<text class="ly" transform="translate(136.20,578.00) scale(1.0,1)" >就</text>
<text class="ly" transform="translate(159.20,578.00) scale(1.0,1)" >在</text>
<text class="ly" transform="translate(180.80,578.00) scale(1.0,1)" >后</text>
<text class="ly" transform="translate(206.20,578.00) scale(1.0,1)" >海</text>
<text class="ly" transform="translate(231.00,578.00) scale(1.0,1)" >酒</text>
<text class="ly" transform="translate(272.50,578.00) scale(1.0,1)" >吧</text>
</svg>
</body></html>
